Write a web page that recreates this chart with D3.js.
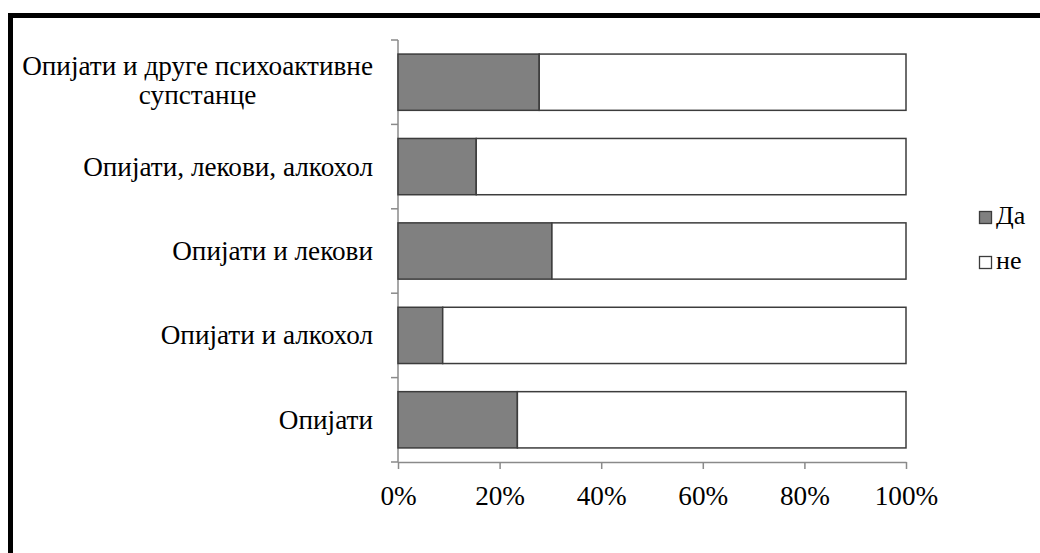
<!DOCTYPE html>
<html>
<head>
<meta charset="utf-8">
<script src="https://cdn.jsdelivr.net/npm/d3@7/dist/d3.min.js"></script>
<style>
  html, body { margin: 0; padding: 0; background: #fff; }
  svg { display: block; }
</style>
</head>
<body>
<svg id="chart" width="1040" height="553"></svg>
<script>
// Categories, top to bottom; "\n" splits a label onto two lines
const categories = [
  "Опијати и друге психоактивне\nсупстанце",
  "Опијати, лекови, алкохол",
  "Опијати и лекови",
  "Опијати и алкохол",
  "Опијати"
];
// Share answering "Да" (%), same order as categories
const yesValues = [27.8, 15.4, 30.3, 8.8, 23.5];
// Share answering "не" (%)
const noValues = [72.2, 84.6, 69.7, 91.2, 76.5];
const seriesNames = ["Да", "не"];
const seriesColors = ["#808080", "#ffffff"];
const xTicks = [0, 20, 40, 60, 80, 100];

const FONT_FAMILY = "'Liberation Serif', Tinos, 'Times New Roman', 'DejaVu Serif', serif";
const svg = d3.select("#chart").style("font-family", FONT_FAMILY);

// Pick a font size so that a reference label spans about 290px
const probe = svg.append("text").style("font-family", FONT_FAMILY)
  .attr("font-size", 27).text(categories[1]);
const probeW = probe.node().getComputedTextLength() || 287;
probe.remove();
const fontSize = Math.max(20, Math.min(30, 27 * 290 / probeW));

// Outer frame (only its left and top edges fall inside the page)
svg.append("rect")
  .attr("x", 10.5).attr("y", 15.5)
  .attr("width", 1100).attr("height", 600)
  .attr("fill", "none").attr("stroke", "#000").attr("stroke-width", 5);

const plotLeft = 398, plotRight = 906, plotTop = 40, plotBottom = 462;

const x = d3.scaleLinear().domain([0, 100]).range([plotLeft, plotRight]);
const y = d3.scaleBand().domain(categories).range([plotTop, plotBottom])
  .paddingInner(1 / 3).paddingOuter(1 / 6);

// Stack the two series
const rows = categories.map((c, i) => ({ cat: c, "Да": yesValues[i], "не": noValues[i] }));
const stacked = d3.stack().keys(seriesNames)(rows);

const axisColor = "#8a8a8a";

// Vertical category axis with ticks on band boundaries
const g = svg.append("g");
g.append("line")
  .attr("x1", plotLeft).attr("x2", plotLeft).attr("y1", plotTop).attr("y2", plotBottom)
  .attr("stroke", axisColor).attr("stroke-width", 1.5);
const bounds = categories.map(c => y(c) - y.step() * y.paddingInner() / 2).concat([plotBottom]);
g.selectAll(".ytick").data(bounds).join("line")
  .attr("x1", plotLeft - 7).attr("x2", plotLeft)
  .attr("y1", d => d).attr("y2", d => d)
  .attr("stroke", axisColor).attr("stroke-width", 1.5);

// Bars
stacked.forEach((layer, si) => {
  svg.append("g").selectAll("rect").data(layer).join("rect")
    .attr("x", d => x(d[0]))
    .attr("y", d => y(d.data.cat))
    .attr("width", d => x(d[1]) - x(d[0]))
    .attr("height", y.bandwidth())
    .attr("fill", seriesColors[si])
    .attr("stroke", "#3c3c3c")
    .attr("stroke-width", 1.5);
});

// Horizontal percentage axis
const xAxis = d3.axisBottom(x).tickValues(xTicks).tickSize(7).tickSizeOuter(0)
  .tickFormat(d => d + "%");
const xg = svg.append("g").attr("transform", `translate(0,${plotBottom})`).call(xAxis);
xg.attr("font-family", null).attr("font-size", null);
xg.select(".domain").attr("stroke", axisColor).attr("stroke-width", 1.5);
xg.selectAll(".tick line").attr("stroke", axisColor).attr("stroke-width", 1.5);
xg.selectAll(".tick text")
  .style("font-family", FONT_FAMILY)
  .attr("font-size", fontSize)
  .attr("fill", "#000")
  .attr("dy", null)
  .attr("y", 43);

// Category labels: block right-aligned, lines centred on each other
const labelRight = 373, lineGap = 29;
categories.forEach(c => {
  const lines = c.split("\n");
  const cy = y(c) + y.bandwidth() / 2;
  const t = svg.append("text")
    .style("font-family", FONT_FAMILY)
    .attr("font-size", fontSize)
    .attr("fill", "#000");
  const firstBase = cy + 9 - (lines.length - 1) * lineGap / 2 - 2;
  lines.forEach((ln, i) => {
    t.append("tspan").text(ln).attr("y", (lines.length > 1 ? firstBase : cy + 9) + i * lineGap);
  });
  // measure the widest line, then centre every line on the block
  const widths = [];
  t.selectAll("tspan").each(function () { widths.push(this.getComputedTextLength()); });
  const blockW = d3.max(widths);
  const centre = labelRight - blockW / 2;
  t.selectAll("tspan").attr("x", centre).attr("text-anchor", "middle");
});

// Legend
const legend = svg.append("g");
seriesNames.forEach((name, i) => {
  const ly = 211 + i * 45;
  legend.append("rect")
    .attr("x", 979.5).attr("y", ly + 0.5).attr("width", 12).attr("height", 12)
    .attr("fill", seriesColors[i]).attr("stroke", "#3c3c3c").attr("stroke-width", 1.3);
  legend.append("text")
    .attr("x", 996).attr("y", ly + 13)
    .style("font-family", FONT_FAMILY)
    .attr("font-size", 26)
    .attr("fill", "#000")
    .text(name);
});
</script>
</body>
</html>
